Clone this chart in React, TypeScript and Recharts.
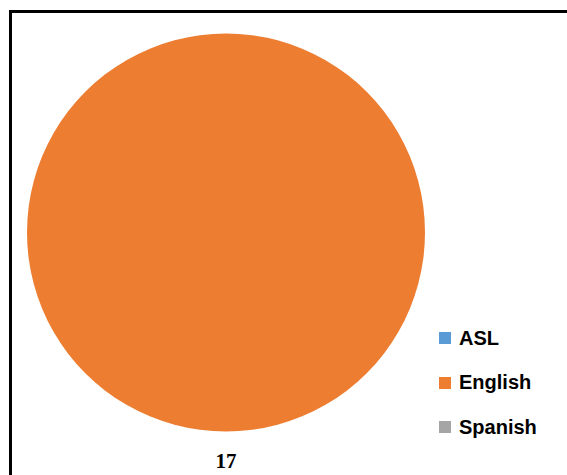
import React from 'react';
import { PieChart, Pie, Cell, Legend } from 'recharts';

const categories = ['ASL', 'English', 'Spanish'];
const values = [0, 17, 0];
const colors = ['#5B9BD5', '#ED7D31', '#A5A5A5'];

const data = categories.map((name, i) => ({ name, value: values[i] }));

const RAD = Math.PI / 180;

const renderLabel = (props: any) => {
  const { cx, cy, midAngle, outerRadius, value } = props;
  if (!value) return null;
  const r = outerRadius + 29;
  const x = cx + r * Math.cos(-midAngle * RAD);
  const y = cy + r * Math.sin(-midAngle * RAD);
  return (
    <text
      x={x}
      y={y}
      textAnchor="middle"
      dominantBaseline="central"
      fontFamily="'Liberation Serif', serif"
      fontWeight="bold"
      fontSize={21}
      fill="#000"
    >
      {value}
    </text>
  );
};

const renderLegend = () => (
  <div style={{ display: 'flex', flexDirection: 'column' }}>
    {categories.map((c, i) => (
      <div key={c} style={{ display: 'flex', alignItems: 'center', height: 44.5 }}>
        <div style={{ width: 12, height: 12, background: colors[i], marginRight: 8 }} />
        <span style={{ fontFamily: "'Liberation Sans', Arial, sans-serif", fontWeight: 'bold', fontSize: 20, color: '#000' }}>{c}</span>
      </div>
    ))}
  </div>
);

export default function App() {
  return (
    <div style={{ position: 'fixed', left: 0, top: 0, width: 567, height: 475, overflow: 'hidden', background: '#fff' }}>
      <svg width={567} height={475} style={{ position: 'absolute', left: 0, top: 0 }}>
        <rect x={9} y={10} width={600} height={600} fill="none" stroke="#000" strokeWidth={3} transform="translate(1.5,1.5)" />
      </svg>
      <div style={{ position: 'absolute', left: 0, top: 0 }}>
        <PieChart width={567} height={475} margin={{ top: 0, right: 0, bottom: 0, left: 0 }}>
          <Pie
            data={data}
            dataKey="value"
            nameKey="name"
            cx={226}
            cy={232.5}
            outerRadius={199}
            startAngle={90}
            endAngle={-270}
            stroke="none"
            label={renderLabel}
            labelLine={false}
            isAnimationActive={false}
          >
            {data.map((d, i) => (
              <Cell key={d.name} fill={colors[i]} />
            ))}
          </Pie>
          <Legend
            layout="vertical"
            align="right"
            verticalAlign="top"
            content={renderLegend}
            wrapperStyle={{ left: 439, top: 316, width: 125 }}
          />
        </PieChart>
      </div>
    </div>
  );
}
